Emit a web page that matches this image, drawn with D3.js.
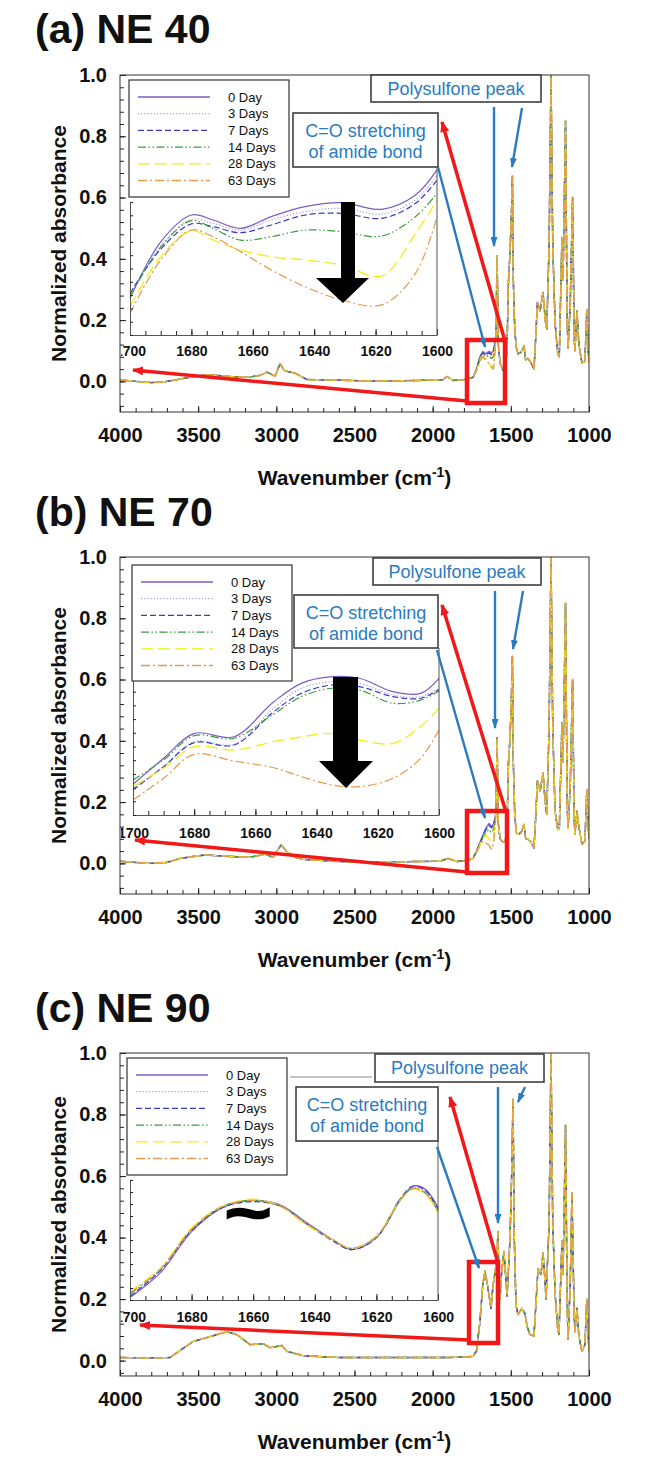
<!DOCTYPE html>
<html><head><meta charset="utf-8">
<script src="https://cdn.jsdelivr.net/npm/d3@7"></script>
<style>body{margin:0;background:#fff}svg{display:block}text{font-family:"Liberation Sans",Arial,sans-serif;fill:#111}</style>
</head><body>
<svg id="chart" width="668" height="1481"></svg>
<script>
// ---------------- DATA ----------------
const days = ["0 Day","3 Days","7 Days","14 Days","28 Days","63 Days"];
const xMajor = [4000,3500,3000,2500,2000,1500,1000];
const yMajor = [0,0.2,0.4,0.6,0.8,1.0];
const insetMajor = [1700,1680,1660,1640,1620,1600];

// Panel (a) NE 40 : common spectrum outside the amide window [wavenumber, absorbance]
const specA = [[4000,0.005],[3900,0.0],[3800,-0.004],[3725,-0.002],[3650,0.004],[3570,0.012],[3444,0.022],[3300,0.016],[3188,0.013],[3100,0.02],[3060,0.03],[3008,0.017],[2976,0.058],[2950,0.035],[2912,0.03],[2880,0.027],[2804,0.006],[2600,0.004],[2400,0.001],[2200,0.002],[2000,0.004],[1934,0.005],[1908,0.016],[1870,0.003],[1800,0.006],[1774,0.008],
 [1595,0.16],[1588,0.41],[1580,0.12],[1569,0.06],[1550,0.036],[1537,0.04],[1525,0.10],[1515,0.33],[1505,0.42],[1496,0.55],[1490,0.67],[1484,0.33],[1475,0.17],[1465,0.11],[1454,0.09],[1435,0.095],[1416,0.115],[1405,0.07],[1390,0.075],[1371,0.06],[1352,0.04],[1340,0.15],[1330,0.26],[1313,0.23],[1294,0.29],[1280,0.2],[1270,0.17],[1255,0.45],[1243,1.0],[1232,0.45],[1217,0.19],[1200,0.09],[1190,0.08],[1173,0.47],[1166,0.33],[1150,0.85],[1140,0.2],[1134,0.11],[1120,0.25],[1105,0.60],[1095,0.15],[1090,0.10],[1077,0.23],[1065,0.12],[1045,0.06],[1026,0.065],[1014,0.235],[1005,0.1],[1000,0.06]];
const amideWnA = [1742,1720,1697,1680,1660,1640,1625,1612,1600];
const amideA0 = [0.013,0.040,0.082,0.097,0.090,0.098,0.093,0.100,0.130];
const amideA3 = [0.013,0.040,0.080,0.095,0.088,0.096,0.090,0.097,0.128];
const amideA7 = [0.013,0.038,0.078,0.093,0.085,0.093,0.088,0.095,0.125];
const amideA14 = [0.013,0.036,0.075,0.088,0.080,0.084,0.075,0.080,0.120];
const amideA28 = [0.013,0.035,0.070,0.085,0.072,0.065,0.042,0.045,0.110];
const amideA63 = [0.013,0.034,0.066,0.080,0.070,0.058,0.050,0.040,0.100];
const insetWnA = [1700,1690,1680,1673,1664,1654,1643,1631,1618,1607,1600];
const insetA0 = [0.276,0.700,0.902,0.865,0.802,0.890,0.965,0.995,0.945,1.053,1.241];
const insetA3 = [0.301,0.670,0.870,0.840,0.789,0.865,0.927,0.952,0.910,1.015,1.203];
const insetA7 = [0.313,0.645,0.835,0.815,0.769,0.827,0.902,0.915,0.877,0.990,1.165];
const insetA14 = [0.288,0.660,0.860,0.802,0.714,0.739,0.789,0.777,0.744,0.890,1.065];
const insetA28 = [0.213,0.589,0.784,0.714,0.639,0.589,0.564,0.526,0.444,0.764,1.015];
const insetA63 = [0.163,0.564,0.789,0.739,0.627,0.489,0.363,0.263,0.226,0.464,0.890];

// Panel (b) NE 70
const specB = [[4000,0.007],[3900,0.003],[3800,0.0],[3700,0.003],[3616,0.016],[3500,0.025],[3444,0.027],[3316,0.023],[3168,0.02],[3072,0.03],[3021,0.02],[2970,0.06],[2932,0.038],[2880,0.02],[2829,0.013],[2600,0.006],[2300,0.005],[2100,0.006],[1953,0.007],[1902,0.016],[1844,0.006],[1780,0.01],
 [1595,0.17],[1588,0.41],[1580,0.13],[1569,0.08],[1550,0.07],[1537,0.07],[1525,0.11],[1515,0.33],[1505,0.41],[1496,0.55],[1490,0.675],[1484,0.33],[1475,0.16],[1465,0.10],[1454,0.095],[1435,0.10],[1416,0.127],[1405,0.08],[1390,0.08],[1371,0.07],[1352,0.05],[1340,0.16],[1330,0.27],[1313,0.235],[1294,0.295],[1280,0.2],[1270,0.16],[1255,0.45],[1243,1.0],[1232,0.45],[1217,0.17],[1200,0.11],[1190,0.11],[1173,0.46],[1166,0.33],[1150,0.85],[1140,0.2],[1134,0.115],[1120,0.25],[1105,0.60],[1095,0.15],[1090,0.095],[1077,0.17],[1065,0.12],[1045,0.062],[1026,0.072],[1014,0.24],[1005,0.12],[1000,0.082]];
const amideWnB = [1742,1720,1697,1680,1660,1640,1625,1612,1600];
const amideB0 = [0.015,0.040,0.070,0.090,0.115,0.130,0.120,0.128,0.150];
const amideB3 = [0.015,0.040,0.068,0.088,0.112,0.127,0.118,0.125,0.148];
const amideB7 = [0.015,0.040,0.066,0.087,0.110,0.125,0.116,0.123,0.146];
const amideB14 = [0.015,0.038,0.065,0.083,0.100,0.110,0.100,0.110,0.140];
const amideB28 = [0.015,0.037,0.062,0.080,0.094,0.080,0.072,0.088,0.130];
const amideB63 = [0.015,0.035,0.058,0.072,0.066,0.060,0.046,0.062,0.120];
const insetWnB = [1700,1690,1680,1667,1654,1645,1635,1626,1615,1606,1600];
const insetB0 = [0.224,0.414,0.596,0.571,0.827,0.961,1.010,0.998,0.900,0.888,0.998];
const insetB3 = [0.195,0.353,0.535,0.516,0.779,0.925,0.973,0.961,0.876,0.864,0.925];
const insetB7 = [0.183,0.353,0.528,0.511,0.754,0.888,0.949,0.937,0.864,0.852,0.915];
const insetB14 = [0.256,0.402,0.579,0.560,0.737,0.864,0.925,0.912,0.815,0.839,0.905];
const insetB28 = [0.207,0.341,0.499,0.474,0.535,0.571,0.596,0.547,0.523,0.645,0.779];
const insetB63 = [0.109,0.268,0.443,0.394,0.345,0.280,0.219,0.207,0.268,0.414,0.621];

// Panel (c) NE 90
const specC = [[4000,0.01],[3800,0.009],[3680,0.01],[3635,0.026],[3533,0.062],[3424,0.078],[3316,0.094],[3252,0.084],[3168,0.052],[3085,0.055],[3040,0.042],[2964,0.049],[2930,0.03],[2829,0.016],[2600,0.01],[2200,0.01],[1900,0.01],[1780,0.012],
 [1590,0.33],[1582,0.42],[1576,0.25],[1569,0.2],[1560,0.28],[1544,0.355],[1524,0.21],[1505,0.40],[1495,0.6],[1486,0.85],[1478,0.4],[1467,0.18],[1454,0.15],[1429,0.17],[1410,0.153],[1395,0.11],[1378,0.085],[1352,0.08],[1340,0.18],[1326,0.30],[1307,0.28],[1294,0.35],[1280,0.25],[1275,0.2],[1255,0.45],[1243,1.0],[1232,0.45],[1217,0.22],[1200,0.1],[1192,0.085],[1173,0.39],[1166,0.28],[1150,0.765],[1140,0.2],[1134,0.07],[1120,0.25],[1109,0.545],[1095,0.15],[1090,0.094],[1077,0.17],[1065,0.08],[1045,0.03],[1026,0.052],[1014,0.20],[1005,0.08],[1000,0.03]];
const amideWnC = [1742,1720,1697,1680,1665,1646,1627,1614,1600];
const amideC0 = [0.014,0.030,0.130,0.245,0.290,0.235,0.170,0.245,0.290];
const amideC3 = [0.014,0.031,0.132,0.246,0.291,0.236,0.171,0.246,0.291];
const amideC7 = [0.014,0.030,0.128,0.243,0.289,0.234,0.169,0.244,0.289];
const amideC14 = [0.014,0.032,0.133,0.247,0.292,0.237,0.172,0.247,0.292];
const amideC28 = [0.015,0.033,0.135,0.248,0.293,0.238,0.173,0.248,0.293];
const amideC63 = [0.015,0.032,0.134,0.247,0.292,0.237,0.172,0.247,0.292];
const insetWnC = [1700,1690,1680,1670,1660,1651,1643,1634,1628,1620,1612,1608,1604,1600];
const insetC0 = [0.02,0.23,0.57,0.77,0.83,0.79,0.65,0.50,0.42,0.52,0.84,0.95,0.92,0.77];
const insetC3 = [0.03,0.24,0.58,0.77,0.83,0.78,0.64,0.50,0.43,0.53,0.85,0.94,0.90,0.75];
const insetC7 = [0.03,0.25,0.58,0.77,0.82,0.78,0.64,0.49,0.42,0.52,0.85,0.95,0.91,0.76];
const insetC14 = [0.05,0.26,0.59,0.78,0.83,0.78,0.64,0.50,0.43,0.53,0.85,0.93,0.89,0.74];
const insetC28 = [0.07,0.27,0.60,0.78,0.84,0.78,0.63,0.50,0.43,0.53,0.84,0.92,0.88,0.73];
const insetC63 = [0.06,0.26,0.59,0.78,0.83,0.78,0.64,0.50,0.43,0.53,0.84,0.93,0.89,0.74];

// ---------------- STYLE / LAYOUT ----------------
const colors = ['#7b5cc6','#9b9ee0','#3b3bc4','#3a9e3a','#f2ee10','#e59a4c'];
const dashes = [null,'1.2,2','6,3','8,2.5,1.5,2.5,1.5,2.5','12,5','9,3,2,3'];
const plotL = 120, plotR = 589;

const panels = [
 {title:'(a) NE 40', titleY:43, top:75, bottom:412, yMin:-0.1, xTitleY:485,
  spec:specA, amWn:amideWnA, am:[amideA0,amideA3,amideA7,amideA14,amideA28,amideA63],
  inWn:insetWnA, ins:[insetA0,insetA3,insetA7,insetA14,insetA28,insetA63],
  legend:{x:129,y:80,w:160,h:117}, inset:{l:130,r:437,t:202,b:335,labY:356},
  co:{x:293,y:113,w:145,h:54}, psf:{x:371,y:75,w:170,h:27}, redBox:{x:467,y:340,w:38,h:63},
  redArrows:[[467,401,133,370],[505,341,442,122]],
  blueArrows:[[438,167,485,347],[494,107,494,246],[522,108,512,167]],
  big:{sl:341,sr:355,hl:316,hr:369,tx:343,top:202,hy:278,ty:303}},
 {title:'(b) NE 70', titleY:526, top:557, bottom:894, yMin:-0.1, xTitleY:967,
  spec:specB, amWn:amideWnB, am:[amideB0,amideB3,amideB7,amideB14,amideB28,amideB63],
  inWn:insetWnB, ins:[insetB0,insetB3,insetB7,insetB14,insetB28,insetB63],
  legend:{x:132,y:565,w:160,h:116}, inset:{l:133,r:439,t:678,b:815,labY:838},
  co:{x:294,y:595,w:144,h:53}, psf:{x:373,y:558,w:168,h:27}, redBox:{x:467,y:811,w:40,h:62},
  redArrows:[[467,872,135,840],[506,812,442,605]],
  blueArrows:[[437,650,485,818],[495,591,495,728],[523,591,513,649]],
  big:{sl:333,sr:358,hl:319,hr:373,tx:346,top:677,hy:761,ty:788}},
 {title:'(c) NE 90', titleY:1022, top:1053, bottom:1376, yMin:-0.05, xTitleY:1449,
  spec:specC, amWn:amideWnC, am:[amideC0,amideC3,amideC7,amideC14,amideC28,amideC63],
  inWn:insetWnC, ins:[insetC0,insetC3,insetC7,insetC14,insetC28,insetC63],
  legend:{x:127,y:1058,w:160,h:117}, inset:{l:130,r:438,t:1180,b:1300,labY:1322},
  co:{x:296,y:1087,w:142,h:54}, psf:{x:375,y:1054,w:169,h:28}, redBox:{x:469,y:1262,w:29,h:81},
  redArrows:[[469,1340,140,1325],[498,1263,450,1097]],
  blueArrows:[[437,1147,479,1268],[498,1087,498,1223],[525,1087,518,1102]],
  tilde:{x:248,y:1233}, frameTop:[290,372,1077]}
];

// ---------------- DRAW ----------------
const svg = d3.select('#chart');
svg.append('rect').attr('width',668).attr('height',1481).attr('fill','#fff');
const defs = svg.append('defs');
function marker(id,color,len,wid){
  defs.append('marker').attr('id',id).attr('viewBox',`0 0 ${len} ${wid}`)
   .attr('refX',len-1).attr('refY',wid/2).attr('markerWidth',len).attr('markerHeight',wid)
   .attr('markerUnits','userSpaceOnUse').attr('orient','auto')
   .append('path').attr('d',`M0,0L${len},${wid/2}L0,${wid}Z`).attr('fill',color);
}
const RED='#f01818', BLUE='#2a7bbf';
marker('redHead',RED,11,9);
marker('blueHead',BLUE,10,7);

function buildSeries(spec, amWn, am){
  const hi = amWn[0], lo = amWn[amWn.length-1];
  const pts = spec.filter(d=>d[0]>hi);
  amWn.forEach((w,i)=>pts.push([w,am[i]]));
  return pts.concat(spec.filter(d=>d[0]<lo));
}

panels.forEach((p,pi)=>{
  const g = svg.append('g');
  const x = d3.scaleLinear().domain([4000,1000]).range([plotL,plotR]);
  const y = d3.scaleLinear().domain([p.yMin,1.0]).range([p.bottom,p.top]);

  g.append('text').attr('x',35).attr('y',p.titleY).attr('font-size',41).attr('font-weight','bold').text(p.title);

  defs.append('clipPath').attr('id','pc'+pi).append('rect')
    .attr('x',plotL).attr('y',p.top).attr('width',plotR-plotL).attr('height',p.bottom-p.top);

  // main spectra
  const line = d3.line().x(d=>x(d[0])).y(d=>y(d[1]));
  const sg = g.append('g').attr('clip-path',`url(#pc${pi})`);
  days.forEach((d,k)=>{
    sg.append('path').attr('d',line(buildSeries(p.spec,p.amWn,p.am[k])))
      .attr('fill','none').attr('stroke',colors[k]).attr('stroke-width',1.4)
      .attr('stroke-dasharray',dashes[k]).attr('stroke-linejoin','round');
  });

  // frame
  g.append('rect').attr('x',plotL).attr('y',p.top).attr('width',plotR-plotL).attr('height',p.bottom-p.top)
    .attr('fill','none').attr('stroke','#333').attr('stroke-width',1);

  // axes
  const axStyle = s=>s.attr('color','#222').attr('font-family','"Liberation Sans",Arial,sans-serif');
  const xMinorG = g.append('g').attr('transform',`translate(0,${p.bottom})`)
    .call(d3.axisBottom(x).tickValues(d3.range(4000,999,-100)).tickSize(-4).tickFormat(''));
  xMinorG.select('.domain').remove(); axStyle(xMinorG);
  const xG = g.append('g').attr('transform',`translate(0,${p.bottom})`)
    .call(d3.axisBottom(x).tickValues(xMajor).tickSize(-6).tickPadding(16).tickFormat(d3.format('d')));
  xG.select('.domain').remove(); axStyle(xG);
  xG.selectAll('text').attr('font-size',20).attr('font-weight','bold');

  const yMinorVals = d3.range(0,1.0001,0.04).concat(d3.range(-0.04,p.yMin-0.0001,-0.04));
  const yMinorG = g.append('g').attr('transform',`translate(${plotL},0)`)
    .call(d3.axisLeft(y).tickValues(yMinorVals).tickSize(-4).tickFormat(''));
  yMinorG.select('.domain').remove(); axStyle(yMinorG);
  const yG = g.append('g').attr('transform',`translate(${plotL},0)`)
    .call(d3.axisLeft(y).tickValues(yMajor).tickSize(-6).tickPadding(13).tickFormat(d3.format('.1f')));
  yG.select('.domain').remove(); axStyle(yG);
  yG.selectAll('text').attr('font-size',20).attr('font-weight','bold');

  // axis titles
  const cy = (p.top+p.bottom)/2;
  g.append('text').attr('transform',`translate(66,${cy}) rotate(-90)`).attr('text-anchor','middle')
    .attr('font-size',21).attr('font-weight','bold').text('Normalized absorbance');
  const xt = g.append('text').attr('x',(plotL+plotR)/2).attr('y',p.xTitleY).attr('text-anchor','middle')
    .attr('font-size',21).attr('font-weight','bold');
  xt.append('tspan').text('Wavenumber (cm');
  xt.append('tspan').attr('dy',-8).attr('font-size',14).text('-1');
  xt.append('tspan').attr('dy',8).text(')');

  // inset
  const I = p.inset;
  const ix = d3.scaleLinear().domain([1700,1600]).range([I.l,I.r]);
  const iy = d3.scaleLinear().domain([0,1]).range([I.b,I.t]);
  const iline = d3.line().x((d,i)=>ix(p.inWn[i])).y(d=>iy(d)).curve(d3.curveCatmullRom.alpha(0.5));
  days.forEach((d,k)=>{
    g.append('path').attr('d',iline(p.ins[k])).attr('fill','none').attr('stroke',colors[k])
      .attr('stroke-width',1.2).attr('stroke-dasharray',dashes[k]);
  });
  // clip for inset labels (in the axis group's own coordinates)
  defs.append('clipPath').attr('id','ic'+pi).append('rect').attr('x',121).attr('y',-20).attr('width',400).attr('height',60);
  const ixMinor = g.append('g').attr('transform',`translate(0,${I.b})`)
    .call(d3.axisBottom(ix).tickValues(d3.range(1700,1599,-5)).tickSize(-4).tickSizeOuter(0).tickFormat(''));
  axStyle(ixMinor); ixMinor.select('.domain').attr('stroke','#555');
  const ixG = g.append('g').attr('transform',`translate(0,${I.b})`).attr('clip-path',`url(#ic${pi})`)
    .call(d3.axisBottom(ix).tickValues(insetMajor).tickSize(-6).tickPadding(I.labY-I.b-10).tickFormat(d3.format('d')));
  ixG.select('.domain').remove(); axStyle(ixG);
  ixG.selectAll('text').attr('font-size',14).attr('font-weight','bold');
  const iyG = g.append('g').attr('transform',`translate(${I.l},0)`)
    .call(d3.axisLeft(iy).tickValues(d3.range(0,1.0001,0.1)).tickSize(-3).tickSizeOuter(0).tickFormat(''));
  axStyle(iyG); iyG.select('.domain').attr('stroke','#555');
  g.append('line').attr('x1',I.r).attr('x2',I.r).attr('y1',p.co.y+p.co.h).attr('y2',I.b).attr('stroke','#555').attr('stroke-width',1);
  if(p.frameTop){
    g.append('line').attr('x1',p.frameTop[0]).attr('x2',p.frameTop[1]).attr('y1',p.frameTop[2]).attr('y2',p.frameTop[2])
     .attr('stroke','#888').attr('stroke-width',1);
  }

  // legend
  const L = p.legend;
  g.append('rect').attr('x',L.x).attr('y',L.y).attr('width',L.w).attr('height',L.h)
    .attr('fill','#fff').attr('stroke','#333').attr('stroke-width',1.2);
  days.forEach((d,k)=>{
    const yy = L.y+17+k*16.7;
    g.append('line').attr('x1',L.x+9).attr('x2',L.x+81).attr('y1',yy).attr('y2',yy)
      .attr('stroke',colors[k]).attr('stroke-width',1.3).attr('stroke-dasharray',dashes[k]);
    g.append('text').attr('x',L.x+99).attr('y',yy).attr('dy','0.36em').attr('font-size',13).text(d);
  });

  // big black arrow or tilde
  if(p.big){
    const b = p.big;
    g.append('path').attr('d',`M${b.sl},${b.top}L${b.sr},${b.top}L${b.sr},${b.hy}L${b.hr},${b.hy}L${b.tx},${b.ty}L${b.hl},${b.hy}L${b.sl},${b.hy}Z`)
     .attr('fill','#000');
  }
  if(p.tilde){
    g.append('text').attr('transform',`translate(${p.tilde.x},${p.tilde.y}) scale(1.35,1)`).attr('text-anchor','middle')
     .attr('font-size',58).attr('font-weight','bold').style('fill','#000')
     .attr('stroke','#000').attr('stroke-width',2.5).text('~');
  }

  // annotation boxes
  const C = p.co;
  g.append('rect').attr('x',C.x).attr('y',C.y).attr('width',C.w).attr('height',C.h)
    .attr('fill','#fff').attr('stroke','#333').attr('stroke-width',1.5);
  g.append('text').attr('x',C.x+C.w/2).attr('y',C.y+24).attr('text-anchor','middle').attr('font-size',18)
    .style('fill',BLUE).text('C=O stretching');
  g.append('text').attr('x',C.x+C.w/2).attr('y',C.y+45).attr('text-anchor','middle').attr('font-size',18)
    .style('fill',BLUE).text('of amide bond');
  const P = p.psf;
  g.append('rect').attr('x',P.x).attr('y',P.y).attr('width',P.w).attr('height',P.h)
    .attr('fill','#fff').attr('stroke','#333').attr('stroke-width',1.5);
  g.append('text').attr('x',P.x+P.w/2).attr('y',P.y+20).attr('text-anchor','middle').attr('font-size',18)
    .style('fill',BLUE).text('Polysulfone peak');

  // red box and arrows
  const R = p.redBox;
  g.append('rect').attr('x',R.x).attr('y',R.y).attr('width',R.w).attr('height',R.h)
    .attr('fill','none').attr('stroke',RED).attr('stroke-width',4.5);
  p.redArrows.forEach(a=>{
    g.append('line').attr('x1',a[0]).attr('y1',a[1]).attr('x2',a[2]).attr('y2',a[3])
     .attr('stroke',RED).attr('stroke-width',3.5).attr('marker-end','url(#redHead)');
  });
  p.blueArrows.forEach(a=>{
    g.append('line').attr('x1',a[0]).attr('y1',a[1]).attr('x2',a[2]).attr('y2',a[3])
     .attr('stroke',BLUE).attr('stroke-width',2.4).attr('marker-end','url(#blueHead)');
  });
});
</script>
</body></html>
